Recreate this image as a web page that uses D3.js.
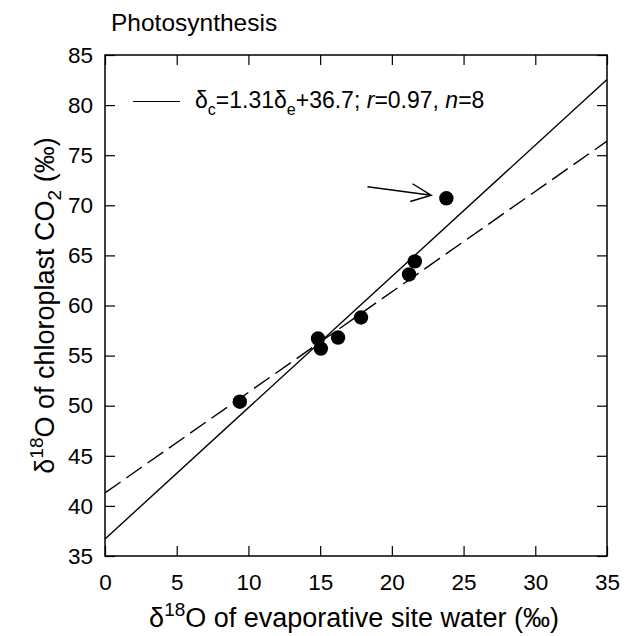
<!DOCTYPE html>
<html lang="en">
<head>
<meta charset="UTF-8">
<title>Photosynthesis</title>
<script src="https://d3js.org/d3.v7.min.js"></script>
<style>
  body { margin: 0; background: #fff; }
  text { font-family: "Liberation Sans", Arial, sans-serif; fill: #000; }
  .tick text { font-size: 22.5px; }
  .domain { stroke: none; }
  .tick line { stroke: #000; stroke-width: 1.2; }
</style>
</head>
<body>
<svg width="628" height="636"></svg>
<script>
// data
const evapWater = [9.4, 14.85, 15.05, 16.25, 17.85, 21.2, 21.6, 23.8];
const chloroCO2 = [50.4, 56.7, 55.7, 56.8, 58.8, 63.1, 64.4, 70.7];
const xTicks = [0, 5, 10, 15, 20, 25, 30, 35];
const yTicks = [35, 40, 45, 50, 55, 60, 65, 70, 75, 80, 85];
const fitSolid = { slope: 1.31, intercept: 36.7 };
const fitDashed = { slope: 1.003, intercept: 41.3 };
const arrowFrom = [18.3, 71.85];
const arrowTo = [22.75, 71.0];

const svg = d3.select("svg");
const margin = { top: 55, right: 21, bottom: 80, left: 105 };
const width = 628 - margin.left - margin.right;
const height = 636 - margin.top - margin.bottom;
const g = svg.append("g").attr("transform", `translate(${margin.left},${margin.top})`);

const x = d3.scaleLinear().domain([0, 35]).range([0, width]);
const y = d3.scaleLinear().domain([35, 85]).range([height, 0]);

// frame
g.append("rect")
  .attr("width", width).attr("height", height)
  .attr("fill", "none").attr("stroke", "#000").attr("stroke-width", 1.5);

// axes, ticks pointing inward
const tl = 10;
g.append("g").attr("transform", `translate(0,${height})`)
  .call(d3.axisBottom(x).tickValues(xTicks).tickSizeInner(-tl).tickSizeOuter(0).tickPadding(18));
g.append("g")
  .call(d3.axisTop(x).tickValues(xTicks).tickSizeInner(-tl).tickSizeOuter(0).tickFormat(""));
g.append("g")
  .call(d3.axisLeft(y).tickValues(yTicks).tickSizeInner(-tl).tickSizeOuter(0).tickPadding(12));
g.append("g").attr("transform", `translate(${width},0)`)
  .call(d3.axisRight(y).tickValues(yTicks).tickSizeInner(-tl).tickSizeOuter(0).tickFormat(""));

// regression lines
const lineFn = d3.line().x(d => x(d[0])).y(d => y(d[1]));
const solidPts = [0, 35].map(v => [v, fitSolid.slope * v + fitSolid.intercept]);
const dashedPts = [0, 35].map(v => [v, fitDashed.slope * v + fitDashed.intercept]);

g.append("path").datum(solidPts)
  .attr("d", lineFn).attr("fill", "none").attr("stroke", "#000").attr("stroke-width", 1.4);
g.append("path").datum(dashedPts)
  .attr("d", lineFn).attr("fill", "none").attr("stroke", "#000").attr("stroke-width", 1.4)
  .attr("stroke-dasharray", "19,7");

// points
g.selectAll("circle")
  .data(evapWater.map((v, i) => [v, chloroCO2[i]]))
  .enter().append("circle")
  .attr("cx", d => x(d[0]))
  .attr("cy", d => y(d[1]))
  .attr("r", 7.2)
  .attr("fill", "#000");

// arrow pointing at the outlier
const ax0 = x(arrowFrom[0]), ay0 = y(arrowFrom[1]);
const ax1 = x(arrowTo[0]), ay1 = y(arrowTo[1]);
const ang = Math.atan2(ay1 - ay0, ax1 - ax0);
const hl = 22, ha = 0.42;
g.append("path")
  .attr("d", `M${ax0},${ay0}L${ax1},${ay1}` +
    `M${ax1 - hl * Math.cos(ang - ha)},${ay1 - hl * Math.sin(ang - ha)}L${ax1},${ay1}` +
    `L${ax1 - hl * Math.cos(ang + ha)},${ay1 - hl * Math.sin(ang + ha)}`)
  .attr("fill", "none").attr("stroke", "#000").attr("stroke-width", 1.4);

// legend
g.append("line")
  .attr("x1", 28).attr("x2", 75).attr("y1", 46.5).attr("y2", 46.5)
  .attr("stroke", "#000").attr("stroke-width", 1.2);
const leg = g.append("text").attr("x", 90).attr("y", 52.5).style("font-size", "23px");
leg.append("tspan").text("δ");
leg.append("tspan").text("c").attr("dy", 7).style("font-size", "16px");
leg.append("tspan").text("=1.31δ").attr("dy", -7);
leg.append("tspan").text("e").attr("dy", 7).style("font-size", "16px");
leg.append("tspan").text("+36.7; ").attr("dy", -7);
leg.append("tspan").text("r").style("font-style", "italic");
leg.append("tspan").text("=0.97, ");
leg.append("tspan").text("n").style("font-style", "italic");
leg.append("tspan").text("=8");

// title
svg.append("text").attr("x", 111).attr("y", 31)
  .style("font-size", "24.5px").text("Photosynthesis");

// x label
const xl = svg.append("text")
  .attr("x", margin.left + width / 2 - 2).attr("y", 627)
  .attr("text-anchor", "middle").style("font-size", "27px");
xl.append("tspan").text("δ");
xl.append("tspan").text("18").attr("dy", -11).style("font-size", "19px");
xl.append("tspan").text("O of evaporative site water (‰)").attr("dy", 11);

// y label
const yl = svg.append("text")
  .attr("transform", `translate(54,${margin.top + height / 2}) rotate(-90)`)
  .attr("text-anchor", "middle").style("font-size", "27px");
yl.append("tspan").text("δ");
yl.append("tspan").text("18").attr("dy", -11).style("font-size", "19px");
yl.append("tspan").text("O of chloroplast CO").attr("dy", 11);
yl.append("tspan").text("2").attr("dy", 7).style("font-size", "19px");
yl.append("tspan").text(" (‰)").attr("dy", -7);
</script>
</body>
</html>
